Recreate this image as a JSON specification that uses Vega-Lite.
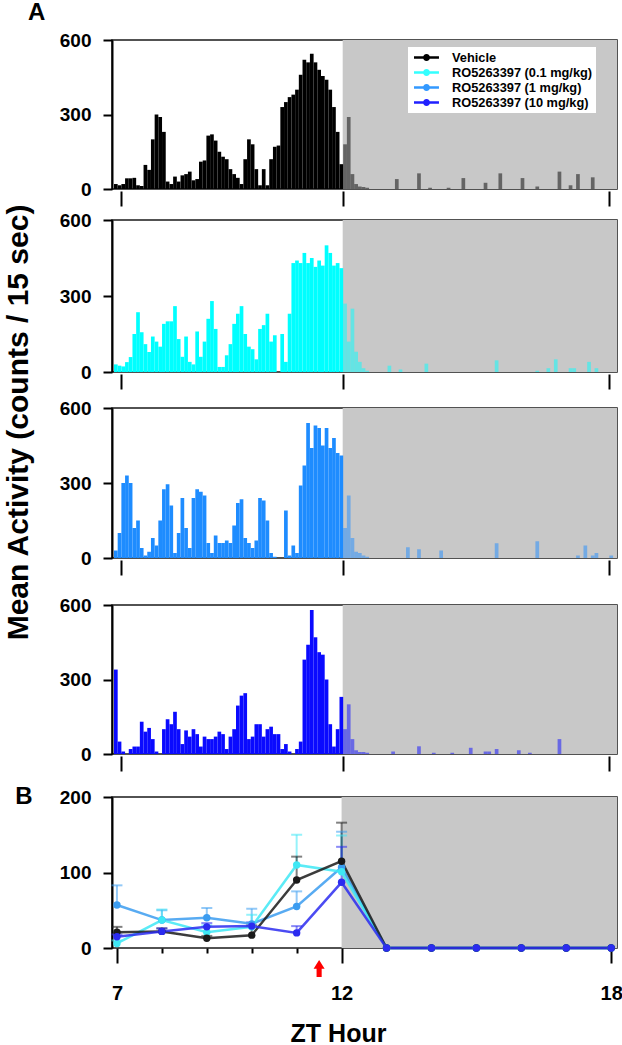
{
"$schema": "https://vega.github.io/schema/vega-lite/v6.json",
"padding": {"left": 3, "right": 4, "top": 0, "bottom": 0},
"spacing": 2,
"title": {"text": "Mean Activity (counts / 15 sec)", "orient": "left", "anchor": "middle", "frame": "bounds", "fontSize": 30, "fontWeight": "bold", "font": "Liberation Sans", "color": "#000000", "offset": -19, "dx": 101},
"config": {
  "font": "Liberation Sans",
  "view": {"stroke": "#1a1a1a", "strokeWidth": 1.5},
  "axis": {"grid": false, "labelFont": "Liberation Sans", "labelFontSize": 19, "labelFontWeight": "bold", "labelColor": "#000000", "tickColor": "#000000", "tickWidth": 2, "domainColor": "#000000", "domainWidth": 2, "titleColor": "#000000", "titleFont": "Liberation Sans", "titleFontWeight": "bold"}
},
"resolve": {"scale": {"color": "independent"}, "legend": {"color": "independent"}},
"datasets": {
  "h1": [{"m":410,"v":20},{"m":415,"v":15},{"m":420,"v":20},{"m":425,"v":43},{"m":430,"v":43},{"m":435,"v":45},{"m":440,"v":15},{"m":445,"v":12},{"m":450,"v":97},{"m":455,"v":77},{"m":460,"v":200},{"m":465,"v":300},{"m":470,"v":290},{"m":475,"v":230},{"m":480,"v":30},{"m":485,"v":20},{"m":490,"v":50},{"m":495,"v":30},{"m":500,"v":55},{"m":505,"v":60},{"m":510,"v":70},{"m":515,"v":35},{"m":520,"v":40},{"m":525,"v":110},{"m":530,"v":115},{"m":535,"v":215},{"m":540,"v":220},{"m":545,"v":195},{"m":550,"v":150},{"m":555,"v":130},{"m":560,"v":120},{"m":565,"v":80},{"m":570,"v":60},{"m":575,"v":45},{"m":580,"v":20},{"m":585,"v":120},{"m":590,"v":200},{"m":595,"v":180},{"m":600,"v":80},{"m":605,"v":15},{"m":610,"v":80},{"m":615,"v":15},{"m":620,"v":120},{"m":625,"v":170},{"m":630,"v":175},{"m":635,"v":330},{"m":640,"v":350},{"m":645,"v":370},{"m":650,"v":380},{"m":655,"v":400},{"m":660,"v":460},{"m":665,"v":520},{"m":670,"v":510},{"m":675,"v":545},{"m":680,"v":510},{"m":685,"v":480},{"m":690,"v":455},{"m":695,"v":440},{"m":700,"v":400},{"m":705,"v":330},{"m":710,"v":230},{"m":715,"v":100},{"m":720,"v":180},{"m":725,"v":290},{"m":730,"v":60},{"m":735,"v":20},{"m":740,"v":10},{"m":745,"v":8},{"m":750,"v":5},{"m":790,"v":40},{"m":820,"v":63},{"m":835,"v":5},{"m":860,"v":5},{"m":880,"v":44},{"m":910,"v":25},{"m":930,"v":63},{"m":960,"v":44},{"m":980,"v":10},{"m":1010,"v":70},{"m":1025,"v":15},{"m":1035,"v":60},{"m":1055,"v":47}],
  "h2": [{"m":410,"v":30},{"m":415,"v":25},{"m":420,"v":22},{"m":425,"v":39},{"m":430,"v":59},{"m":435,"v":150},{"m":440,"v":236},{"m":445,"v":157},{"m":450,"v":110},{"m":455,"v":79},{"m":460,"v":140},{"m":465,"v":120},{"m":470,"v":100},{"m":475,"v":190},{"m":480,"v":200},{"m":485,"v":200},{"m":490,"v":260},{"m":495,"v":130},{"m":500,"v":60},{"m":505,"v":140},{"m":510,"v":40},{"m":515,"v":30},{"m":520,"v":160},{"m":525,"v":60},{"m":530,"v":120},{"m":535,"v":210},{"m":540,"v":280},{"m":545,"v":170},{"m":550,"v":20},{"m":555,"v":20},{"m":560,"v":66},{"m":565,"v":110},{"m":570,"v":190},{"m":575,"v":230},{"m":580,"v":260},{"m":585,"v":150},{"m":590,"v":100},{"m":595,"v":90},{"m":600,"v":50},{"m":605,"v":170},{"m":610,"v":185},{"m":615,"v":230},{"m":620,"v":120},{"m":625,"v":145},{"m":630,"v":0},{"m":635,"v":150},{"m":640,"v":40},{"m":645,"v":230},{"m":650,"v":430},{"m":655,"v":440},{"m":660,"v":430},{"m":665,"v":470},{"m":670,"v":430},{"m":675,"v":450},{"m":680,"v":415},{"m":685,"v":440},{"m":690,"v":420},{"m":695,"v":500},{"m":700,"v":470},{"m":705,"v":420},{"m":710,"v":430},{"m":715,"v":410},{"m":720,"v":270},{"m":725,"v":120},{"m":730,"v":250},{"m":735,"v":80},{"m":740,"v":40},{"m":745,"v":15},{"m":750,"v":5},{"m":780,"v":25},{"m":795,"v":10},{"m":830,"v":33},{"m":925,"v":46},{"m":980,"v":5},{"m":995,"v":15},{"m":1005,"v":50},{"m":1025,"v":15},{"m":1030,"v":15},{"m":1050,"v":40},{"m":1060,"v":15}],
  "h3": [{"m":410,"v":30},{"m":415,"v":100},{"m":420,"v":300},{"m":425,"v":330},{"m":430,"v":300},{"m":435,"v":120},{"m":440,"v":150},{"m":445,"v":40},{"m":450,"v":10},{"m":455,"v":25},{"m":460,"v":80},{"m":465,"v":50},{"m":470,"v":150},{"m":475,"v":275},{"m":480,"v":295},{"m":485,"v":210},{"m":490,"v":20},{"m":495,"v":100},{"m":500,"v":240},{"m":505,"v":120},{"m":510,"v":40},{"m":515,"v":240},{"m":520,"v":275},{"m":525,"v":265},{"m":530,"v":250},{"m":535,"v":60},{"m":540,"v":20},{"m":545,"v":90},{"m":550,"v":60},{"m":555,"v":60},{"m":560,"v":70},{"m":565,"v":60},{"m":570,"v":130},{"m":575,"v":220},{"m":580,"v":235},{"m":585,"v":80},{"m":590,"v":60},{"m":595,"v":40},{"m":600,"v":70},{"m":605,"v":240},{"m":610,"v":230},{"m":615,"v":150},{"m":620,"v":20},{"m":625,"v":5},{"m":630,"v":0},{"m":635,"v":0},{"m":640,"v":190},{"m":645,"v":10},{"m":650,"v":50},{"m":655,"v":20},{"m":660,"v":290},{"m":665,"v":370},{"m":670,"v":540},{"m":675,"v":440},{"m":680,"v":530},{"m":685,"v":520},{"m":690,"v":450},{"m":695,"v":520},{"m":700,"v":440},{"m":705,"v":480},{"m":710,"v":420},{"m":715,"v":410},{"m":720,"v":120},{"m":725,"v":250},{"m":730,"v":80},{"m":735,"v":25},{"m":740,"v":20},{"m":745,"v":10},{"m":750,"v":5},{"m":805,"v":43},{"m":820,"v":35},{"m":850,"v":30},{"m":925,"v":59},{"m":980,"v":67},{"m":1035,"v":10},{"m":1045,"v":50},{"m":1055,"v":10},{"m":1060,"v":20},{"m":1080,"v":10}],
  "h4": [{"m":410,"v":340},{"m":415,"v":50},{"m":420,"v":10},{"m":425,"v":0},{"m":430,"v":20},{"m":435,"v":30},{"m":440,"v":30},{"m":445,"v":130},{"m":450,"v":90},{"m":455,"v":105},{"m":460,"v":60},{"m":465,"v":10},{"m":470,"v":0},{"m":475,"v":100},{"m":480,"v":140},{"m":485,"v":120},{"m":490,"v":170},{"m":495,"v":100},{"m":500,"v":40},{"m":505,"v":95},{"m":510,"v":70},{"m":515,"v":100},{"m":520,"v":80},{"m":525,"v":30},{"m":530,"v":70},{"m":535,"v":60},{"m":540,"v":60},{"m":545,"v":70},{"m":550,"v":90},{"m":555,"v":80},{"m":560,"v":20},{"m":565,"v":70},{"m":570,"v":100},{"m":575,"v":195},{"m":580,"v":235},{"m":585,"v":245},{"m":590,"v":60},{"m":595,"v":70},{"m":600,"v":120},{"m":605,"v":120},{"m":610,"v":70},{"m":615,"v":100},{"m":620,"v":110},{"m":625,"v":80},{"m":630,"v":80},{"m":635,"v":20},{"m":640,"v":40},{"m":645,"v":10},{"m":650,"v":0},{"m":655,"v":20},{"m":660,"v":50},{"m":665,"v":380},{"m":670,"v":440},{"m":675,"v":580},{"m":680,"v":470},{"m":685,"v":410},{"m":690,"v":400},{"m":695,"v":300},{"m":700,"v":120},{"m":705,"v":30},{"m":710,"v":100},{"m":715,"v":230},{"m":720,"v":100},{"m":725,"v":200},{"m":730,"v":60},{"m":735,"v":15},{"m":740,"v":8},{"m":745,"v":8},{"m":750,"v":5},{"m":785,"v":10},{"m":820,"v":31},{"m":840,"v":5},{"m":865,"v":5},{"m":890,"v":25},{"m":910,"v":10},{"m":915,"v":10},{"m":925,"v":20},{"m":955,"v":15},{"m":970,"v":5},{"m":1010,"v":60}],
  "B": [
    {"s":"RO5263397 (1 mg/kg)","t":7,"v":57,"hi":83},{"s":"RO5263397 (1 mg/kg)","t":8,"v":37,"hi":50},{"s":"RO5263397 (1 mg/kg)","t":9,"v":40,"hi":53},{"s":"RO5263397 (1 mg/kg)","t":10,"v":32,"hi":52},{"s":"RO5263397 (1 mg/kg)","t":11,"v":55,"hi":75},{"s":"RO5263397 (1 mg/kg)","t":12,"v":107,"hi":154},{"s":"RO5263397 (1 mg/kg)","t":13,"v":0,"hi":0},{"s":"RO5263397 (1 mg/kg)","t":14,"v":0,"hi":0},{"s":"RO5263397 (1 mg/kg)","t":15,"v":0,"hi":0},{"s":"RO5263397 (1 mg/kg)","t":16,"v":0,"hi":0},{"s":"RO5263397 (1 mg/kg)","t":17,"v":0,"hi":0},{"s":"RO5263397 (1 mg/kg)","t":18,"v":0,"hi":0},
    {"s":"RO5263397 (0.1 mg/kg)","t":7,"v":6,"hi":10},{"s":"RO5263397 (0.1 mg/kg)","t":8,"v":37,"hi":51},{"s":"RO5263397 (0.1 mg/kg)","t":9,"v":21,"hi":30},{"s":"RO5263397 (0.1 mg/kg)","t":10,"v":28,"hi":44},{"s":"RO5263397 (0.1 mg/kg)","t":11,"v":110,"hi":150},{"s":"RO5263397 (0.1 mg/kg)","t":12,"v":101,"hi":149},{"s":"RO5263397 (0.1 mg/kg)","t":13,"v":0,"hi":0},{"s":"RO5263397 (0.1 mg/kg)","t":14,"v":0,"hi":0},{"s":"RO5263397 (0.1 mg/kg)","t":15,"v":0,"hi":0},{"s":"RO5263397 (0.1 mg/kg)","t":16,"v":0,"hi":0},{"s":"RO5263397 (0.1 mg/kg)","t":17,"v":0,"hi":0},{"s":"RO5263397 (0.1 mg/kg)","t":18,"v":0,"hi":0},
    {"s":"Vehicle","t":7,"v":21,"hi":28},{"s":"Vehicle","t":8,"v":22,"hi":26},{"s":"Vehicle","t":9,"v":13,"hi":16},{"s":"Vehicle","t":10,"v":17,"hi":30},{"s":"Vehicle","t":11,"v":90,"hi":121},{"s":"Vehicle","t":12,"v":115,"hi":166},{"s":"Vehicle","t":13,"v":0,"hi":0},{"s":"Vehicle","t":14,"v":0,"hi":0},{"s":"Vehicle","t":15,"v":0,"hi":0},{"s":"Vehicle","t":16,"v":0,"hi":0},{"s":"Vehicle","t":17,"v":0,"hi":0},{"s":"Vehicle","t":18,"v":0,"hi":0},
    {"s":"RO5263397 (10 mg/kg)","t":7,"v":15,"hi":18},{"s":"RO5263397 (10 mg/kg)","t":8,"v":22,"hi":26},{"s":"RO5263397 (10 mg/kg)","t":9,"v":28,"hi":33},{"s":"RO5263397 (10 mg/kg)","t":10,"v":29,"hi":34},{"s":"RO5263397 (10 mg/kg)","t":11,"v":20,"hi":29},{"s":"RO5263397 (10 mg/kg)","t":12,"v":87,"hi":134},{"s":"RO5263397 (10 mg/kg)","t":13,"v":0,"hi":0},{"s":"RO5263397 (10 mg/kg)","t":14,"v":0,"hi":0},{"s":"RO5263397 (10 mg/kg)","t":15,"v":0,"hi":0},{"s":"RO5263397 (10 mg/kg)","t":16,"v":0,"hi":0},{"s":"RO5263397 (10 mg/kg)","t":17,"v":0,"hi":0},{"s":"RO5263397 (10 mg/kg)","t":18,"v":0,"hi":0}
  ],
  "arrow": [{"t": 11.5, "v": -27}]
},
"vconcat": [
  {
    "width": 505, "height": 149,
    "layer": [
      {"data": {"values": [{}]}, "mark": {"type": "rect", "color": "#c8c8c8"},
       "encoding": {
         "x": {"datum": 720, "type": "quantitative", "scale": {"domain": [408, 1091], "nice": false, "zero": false}, "axis": {"values": [420, 720, 1080], "labels": false, "domain": false, "tickSize": 15, "offset": 2, "title": null}},
         "x2": {"datum": 1091},
         "y": {"datum": 0, "type": "quantitative", "scale": {"domain": [0, 600], "nice": false}, "axis": {"values": [0, 300, 600], "tickSize": 9, "labelPadding": 12, "title": null}},
         "y2": {"datum": 600}}},
      {"data": {"name": "h1"}, "mark": {"type": "bar", "binSpacing": 0},
       "encoding": {
         "x": {"field": "m", "type": "quantitative", "bin": {"binned": true, "step": 5}},
         "y": {"field": "v", "type": "quantitative"},
         "color": {"datum": "Vehicle", "type": "nominal",
           "scale": {"domain": ["Vehicle", "RO5263397 (0.1 mg/kg)", "RO5263397 (1 mg/kg)", "RO5263397 (10 mg/kg)"], "range": ["#000000", "#33ffff", "#3399ff", "#2020ff"]},
           "legend": {"orient": "none", "legendX": 296, "legendY": 7, "title": null,
             "symbolType": "M-0.6,-0.17L2.73,-0.17L2.73,0.17L-0.6,0.17Z M1.54,0A0.47,0.47 0 1,1 0.6,0A0.47,0.47 0 1,1 1.54,0Z",
             "symbolSize": 225, "symbolStrokeWidth": 0, "symbolOpacity": 1,
             "labelFontSize": 12.8, "labelFontWeight": "bold", "labelColor": "#000000", "labelFont": "Liberation Sans",
             "labelOffset": 26, "rowPadding": 0, "padding": 3, "fillColor": "#ffffff", "labelLimit": 400}},
         "opacity": {"condition": {"test": "datum.m >= 720", "value": 0.5}, "value": 1}}},
      {"data": {"values": [{}]}, "mark": {"type": "text", "text": "A", "fontSize": 24, "fontWeight": "bold", "align": "center", "baseline": "middle", "color": "#000000"},
       "encoding": {"x": {"datum": 306}, "y": {"datum": 709}}}
    ]
  },
  {
    "width": 505, "height": 152,
    "layer": [
      {"data": {"values": [{}]}, "mark": {"type": "rect", "color": "#c8c8c8"},
       "encoding": {
         "x": {"datum": 720, "type": "quantitative", "scale": {"domain": [408, 1091], "nice": false, "zero": false}, "axis": {"values": [420, 720, 1080], "labels": false, "domain": false, "tickSize": 15, "offset": 2, "title": null}},
         "x2": {"datum": 1091},
         "y": {"datum": 0, "type": "quantitative", "scale": {"domain": [0, 600], "nice": false}, "axis": {"values": [0, 300, 600], "tickSize": 9, "labelPadding": 12, "title": null}},
         "y2": {"datum": 600}}},
      {"data": {"name": "h2"}, "mark": {"type": "bar", "binSpacing": 0, "color": "#00ffff"},
       "encoding": {
         "x": {"field": "m", "type": "quantitative", "bin": {"binned": true, "step": 5}},
         "y": {"field": "v", "type": "quantitative"},
         "opacity": {"condition": {"test": "datum.m >= 720", "value": 0.5}, "value": 1}}},
      {"data": {"values": [{}]}, "mark": {"type": "rule", "opacity": 0, "strokeWidth": 1},
       "encoding": {"x": {"datum": 420}, "y": {"datum": 0}, "y2": {"datum": -91}}}
    ]
  },
  {
    "width": 505, "height": 150,
    "layer": [
      {"data": {"values": [{}]}, "mark": {"type": "rect", "color": "#c8c8c8"},
       "encoding": {
         "x": {"datum": 720, "type": "quantitative", "scale": {"domain": [408, 1091], "nice": false, "zero": false}, "axis": {"values": [420, 720, 1080], "labels": false, "domain": false, "tickSize": 15, "offset": 2, "title": null}},
         "x2": {"datum": 1091},
         "y": {"datum": 0, "type": "quantitative", "scale": {"domain": [0, 600], "nice": false}, "axis": {"values": [0, 300, 600], "tickSize": 9, "labelPadding": 12, "title": null}},
         "y2": {"datum": 600}}},
      {"data": {"name": "h3"}, "mark": {"type": "bar", "binSpacing": 0, "color": "#1e8cff"},
       "encoding": {
         "x": {"field": "m", "type": "quantitative", "bin": {"binned": true, "step": 5}},
         "y": {"field": "v", "type": "quantitative"},
         "opacity": {"condition": {"test": "datum.m >= 720", "value": 0.5}, "value": 1}}},
      {"data": {"values": [{}]}, "mark": {"type": "rule", "opacity": 0, "strokeWidth": 1},
       "encoding": {"x": {"datum": 420}, "y": {"datum": 0}, "y2": {"datum": -136}}}
    ]
  },
  {
    "width": 505, "height": 149,
    "layer": [
      {"data": {"values": [{}]}, "mark": {"type": "rect", "color": "#c8c8c8"},
       "encoding": {
         "x": {"datum": 720, "type": "quantitative", "scale": {"domain": [408, 1091], "nice": false, "zero": false}, "axis": {"values": [420, 720, 1080], "labels": false, "domain": false, "tickSize": 15, "offset": 2, "title": null}},
         "x2": {"datum": 1091},
         "y": {"datum": 0, "type": "quantitative", "scale": {"domain": [0, 600], "nice": false}, "axis": {"values": [0, 300, 600], "tickSize": 9, "labelPadding": 12, "title": null}},
         "y2": {"datum": 600}}},
      {"data": {"name": "h4"}, "mark": {"type": "bar", "binSpacing": 0, "color": "#0a0aff"},
       "encoding": {
         "x": {"field": "m", "type": "quantitative", "bin": {"binned": true, "step": 5}},
         "y": {"field": "v", "type": "quantitative"},
         "opacity": {"condition": {"test": "datum.m >= 720", "value": 0.5}, "value": 1}}},
      {"data": {"values": [{}]}, "mark": {"type": "rule", "opacity": 0, "strokeWidth": 1},
       "encoding": {"x": {"datum": 420}, "y": {"datum": 0}, "y2": {"datum": -109}}}
    ]
  },
  {
    "width": 505, "height": 151,
    "layer": [
      {"data": {"values": [{}]}, "mark": {"type": "rect", "color": "#c8c8c8"},
       "encoding": {
         "x": {"datum": 12, "type": "quantitative", "scale": {"domain": [6.89, 18.13], "nice": false, "zero": false},
               "axis": {"values": [7, 8, 9, 10, 11, 12, 18], "domain": false,
                        "tickSize": {"condition": {"test": "datum.value == 7 || datum.value == 12 || datum.value == 18", "value": 15}, "value": 5},
                        "labelExpr": "datum.value == 7 || datum.value == 12 || datum.value == 18 ? datum.label : ''",
                        "labelFontSize": 20, "labelPadding": 20,
                        "title": "ZT Hour", "titleFontSize": 25, "titleX": 226, "titleY": 93, "titleAlign": "center", "titleBaseline": "alphabetic"}},
         "x2": {"datum": 18.13},
         "y": {"datum": 0, "type": "quantitative", "scale": {"domain": [0, 200], "nice": false}, "axis": {"values": [0, 100, 200], "tickSize": 9, "labelPadding": 12, "title": null}},
         "y2": {"datum": 200}}},
      {"data": {"name": "B"}, "transform": [{"filter": "datum.hi > datum.v"}], "mark": {"type": "rule", "strokeWidth": 2, "opacity": 0.55},
       "encoding": {
         "x": {"field": "t", "type": "quantitative"},
         "y": {"field": "v", "type": "quantitative"}, "y2": {"field": "hi"},
         "color": {"field": "s", "type": "nominal", "scale": {"domain": ["Vehicle", "RO5263397 (0.1 mg/kg)", "RO5263397 (1 mg/kg)", "RO5263397 (10 mg/kg)"], "range": ["#1a1a1a", "#3ee8f5", "#3b9cf0", "#2b2bf0"]}, "legend": null}}},
      {"data": {"name": "B"}, "transform": [{"filter": "datum.hi > datum.v"}], "mark": {"type": "tick", "orient": "horizontal", "size": 11, "thickness": 2, "opacity": 0.55},
       "encoding": {
         "x": {"field": "t", "type": "quantitative"},
         "y": {"field": "hi", "type": "quantitative"},
         "color": {"field": "s", "type": "nominal", "legend": null}}},
      {"data": {"name": "B"}, "mark": {"type": "line", "strokeWidth": 2.5, "opacity": 0.85},
       "encoding": {
         "x": {"field": "t", "type": "quantitative"},
         "y": {"field": "v", "type": "quantitative"},
         "color": {"field": "s", "type": "nominal", "legend": null}}},
      {"data": {"name": "B"}, "mark": {"type": "point", "filled": true, "size": 55, "opacity": 1},
       "encoding": {
         "x": {"field": "t", "type": "quantitative"},
         "y": {"field": "v", "type": "quantitative"},
         "color": {"field": "s", "type": "nominal", "legend": null}}},
      {"data": {"name": "arrow"}, "mark": {"type": "point", "shape": "M-0.3,1L-0.3,0.05L-0.65,0.05L0,-1L0.65,0.05L0.3,0.05L0.3,1Z", "size": 289, "filled": true, "color": "#ff0000", "opacity": 1, "strokeWidth": 0},
       "encoding": {
         "x": {"field": "t", "type": "quantitative"},
         "y": {"field": "v", "type": "quantitative"}}},
      {"data": {"values": [{}]}, "mark": {"type": "text", "text": "B", "fontSize": 24, "fontWeight": "bold", "align": "center", "baseline": "middle", "color": "#000000"},
       "encoding": {"x": {"datum": 4.93}, "y": {"datum": 200}}}
    ]
  }
]
}
